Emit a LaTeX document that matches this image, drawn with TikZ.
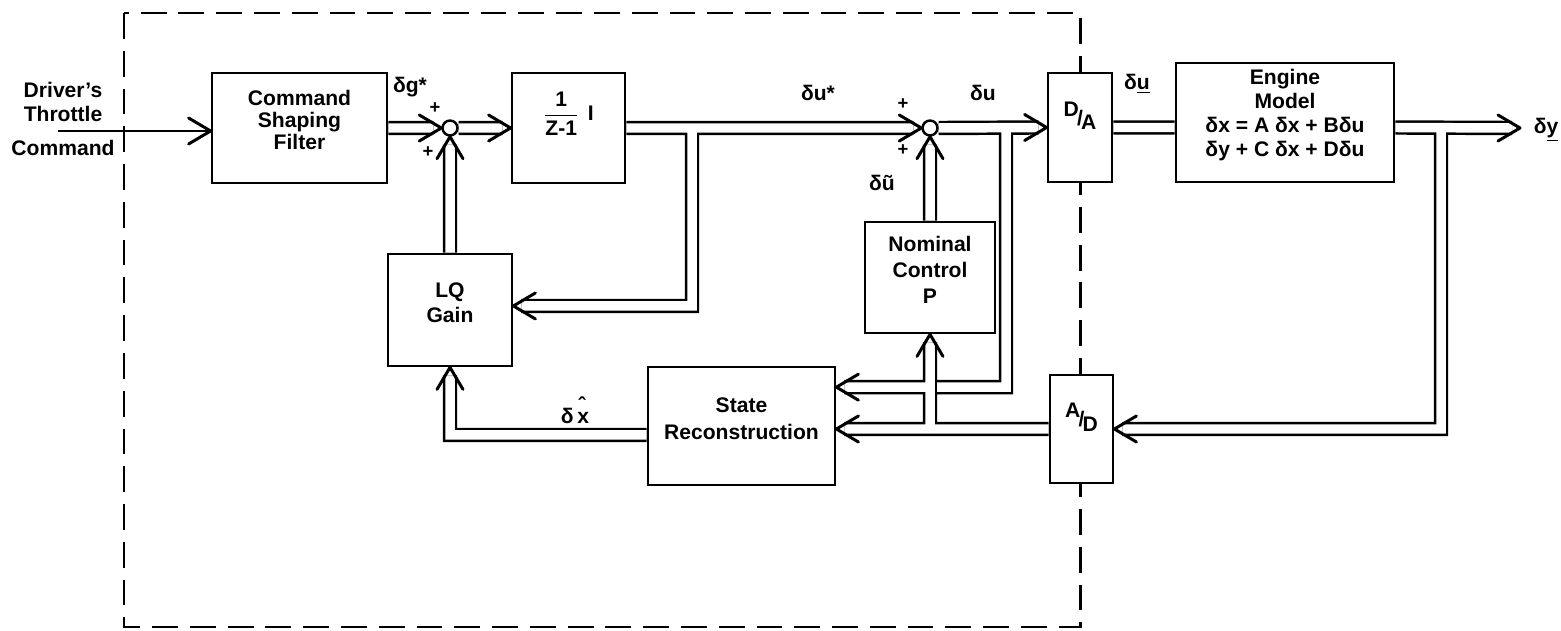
\documentclass[tikz,border=0pt]{standalone}
\usepackage{fontspec}
\setmainfont{Liberation Sans}
\usetikzlibrary{calc,fit}
\pgfdeclarelayer{bg}
\pgfsetlayers{bg,main}
\begin{document}
\begin{tikzpicture}[x=0.02cm,y=-0.02cm,
  font=\fontsize{12}{14}\selectfont\bfseries,
  box/.style={draw,line width=1.6pt,fill=white,inner sep=0pt,align=center},
  sumj/.style={draw,circle,line width=1.4pt,fill=white,inner sep=0pt,minimum size=8.5pt},
  dblout/.style={line width=8.2pt,line cap=butt,line join=miter},
  dblin/.style={white,line width=5.4pt,line cap=butt,line join=miter},
  chevline/.style={line width=1.7pt,line cap=round,line join=round},
  lbl/.style={inner sep=0pt},
  plus/.style={inner sep=0pt,font=\fontsize{10.5}{10.5}\selectfont\bfseries},
  dashbox/.style={line width=1.7pt,dash pattern=on 14.7pt off 6.8pt},
  pics/chevR/.style={code={\draw[chevline] (-22,-13) -- (0,0) -- (-22,13);}},
  pics/chevL/.style={code={\draw[chevline] (22,-13) -- (0,0) -- (22,13);}},
  pics/chevU/.style={code={\draw[chevline] (-13,22) -- (0,0) -- (13,22);}},
]
\useasboundingbox (0,0) rectangle (1561,631);

% nodes
\node[lbl,align=center] (drv) at (63,102) {Driver’s\\Throttle};
\node[lbl] (cmd) at (63,148) {Command};
\coordinate (in) at (58,131);
\node[box,fit={(212,73) (387,183)},font=\fontsize{12}{12.5}\selectfont\bfseries] (csf) {Command\\Shaping\\Filter};
\node[sumj] (s1) at (450,128) {};
\node[box,fit={(512,73) (625,183)}] (zi) {$\displaystyle\frac{\mbox{1}}{\mbox{Z-1}}$\hspace{5pt}I};
\node[box,fit={(388,254) (512,366)}] (lq) {LQ\\Gain};
\node[sumj] (s2) at (930,128) {};
\node[box,fit={(865,222) (995,333)},font=\fontsize{12}{15}\selectfont\bfseries] (p) {Nominal\\Control\\P};
\node[box,fit={(1048,73) (1112,182)}] (da) {\raisebox{5pt}{D}\kern-1pt/\kern-1pt\raisebox{-2pt}{A}};
\node[box,fit={(1176,63) (1394,182)},font=\fontsize{12}{13.6}\selectfont\bfseries] (em) {Engine\\Model\\δx = A δx + Bδu\\δy + C δx + Dδu};
\node[box,fit={(1050,375) (1113,483)}] (ad) {\raisebox{5pt}{A}\kern-1pt/\kern-1pt\raisebox{-3pt}{D}};
\node[box,fit={(648,367) (835,485)},font=\fontsize{12}{15}\selectfont\bfseries] (sr) {State\\Reconstruction};
\coordinate (out) at (1520,128);
\coordinate (j1) at (692,128);
\coordinate (j2) at (1006,128);
\coordinate (j3) at (1441,128);
\coordinate (j4) at (p.south |- ad.west);
\coordinate (sru) at ([yshift=22.1pt]sr.east);
\coordinate (srl) at (ad.west -| sr.east);
\coordinate (lqr) at ([yshift=2.3pt]lq.east);
\coordinate (x1) at (j4 |- sru);

\tikzset{dblnet/.style={insert path={
  (csf.east) -- ([xshift=-4.5pt]s1.west)
  (lq.north) -- ([yshift=-4.5pt]s1.south)
  (s1.east) -- ([xshift=-4.5pt]zi.west)
  (zi.east) -- ([xshift=-4.5pt]s2.west)
  (j1) |- ([xshift=4.5pt]lqr)
  (s2.east) -- ([xshift=-4.5pt]da.west)
  (p.north) -- ([yshift=-4.5pt]s2.south)
  (j2) |- ([xshift=4.5pt]sru)
  (da.east) -- (da.east -| em.west)
  (da.east -| em.east) -- ([xshift=-4.5pt]out)
  (j3) |- ([xshift=4.5pt]ad.east)
  (ad.west) -- ([xshift=4.5pt]srl)
  (j4) -- ([yshift=-4.5pt]p.south)
  ([yshift=-5.1pt]sr.west) -| ([yshift=-4.5pt]lq.south)
}}}

\begin{pgfonlayer}{bg}
\draw[dashbox] (124,13) rectangle (1080,627);
\draw[line width=1.6pt] (in) -- (in -| csf.west);
\draw[dblout,dblnet];
\draw[dblin,dblnet];
\end{pgfonlayer}
\draw[line width=1.42pt] ([xshift=3.4pt,yshift=4.1pt]x1) -- ([xshift=3.4pt,yshift=-4.1pt]x1);

% arrowheads
\pic at (in -| csf.west) {chevR};
\pic at (s1.west) {chevR};
\pic at (s1.south) {chevU};
\pic at (zi.west) {chevR};
\pic at (lqr) {chevL};
\pic at (s2.west) {chevR};
\pic at (s2.south) {chevU};
\pic at (da.west) {chevR};
\pic at (sru) {chevL};
\pic at (srl) {chevL};
\pic at (p.south) {chevU};
\pic at (lq.south) {chevU};
\pic at (out) {chevR};
\pic at (ad.east) {chevL};

% labels
\node[lbl] (lg) at (410,87) {δg*};
\node[plus] (p1) at (435,108) {+};
\node[plus] (p2) at (428,152) {+};
\node[lbl] (lus) at (818,93) {δu*};
\node[plus] (p3) at (903,104) {+};
\node[plus] (p4) at (903,150) {+};
\node[lbl] (lu) at (983,93) {δu};
\node[lbl] (lut) at (882,183) {δũ};
\node[lbl] (luv) at (1137,84) {δ\underline{u}};
\node[lbl] (ly) at (1546,130) {δ\underline{y}};
\node[lbl] (lx) at (575,410) {δ\,\makebox[0pt][l]{\raisebox{6.5pt}{\hspace{0.6pt}ˆ}}x};
\end{tikzpicture}
\end{document}
